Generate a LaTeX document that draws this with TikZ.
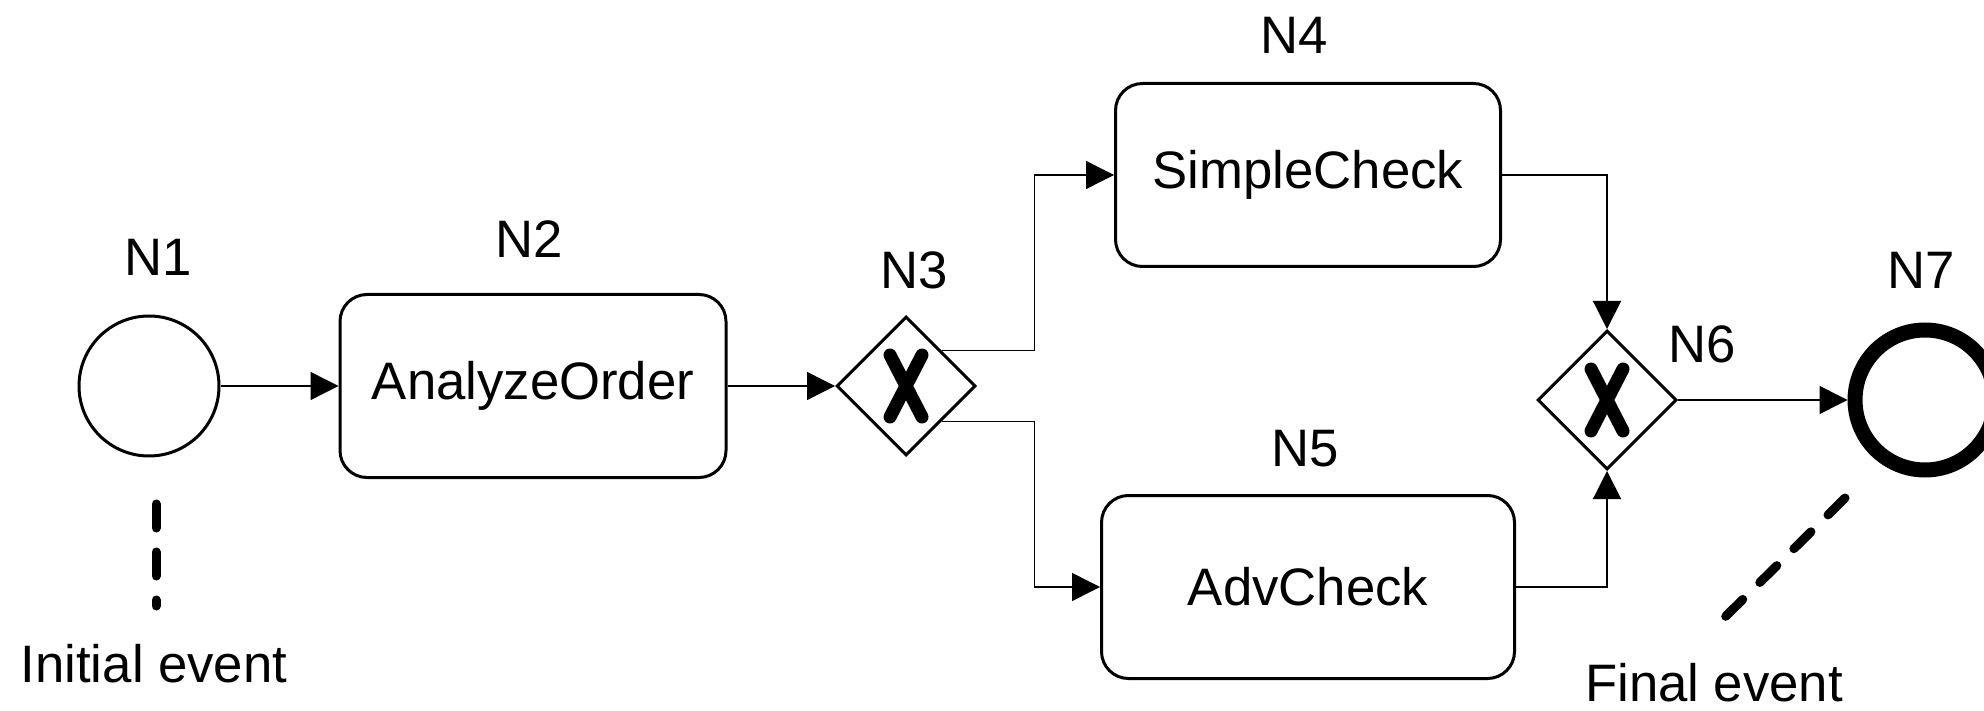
\documentclass[tikz,border=0pt]{standalone}
\usepackage{fontspec}
\setmainfont{Liberation Sans}
\usetikzlibrary{shapes.geometric, arrows.meta, positioning, calc}

\begin{document}
\begin{tikzpicture}[
    font=\fontsize{15}{18}\selectfont,
    event/.style={circle, draw=black, line width=0.03cm, minimum size=1.40cm, inner sep=0pt},
    end_event/.style={circle, draw=black, line width=0.15cm, minimum size=1.40cm, inner sep=0pt},
    task/.style={rectangle, draw=black, line width=0.03cm, rounded corners=0.27cm, minimum height=1.83cm, align=center},
    gateway/.style={diamond, draw=black, line width=0.03cm, minimum width=1.39cm, minimum height=1.39cm, inner sep=0pt,
        path picture={\draw[line width=0.13cm, line cap=round]
            ([shift={(-0.16,0.31)}]path picture bounding box.center) -- ([shift={(0.16,-0.31)}]path picture bounding box.center)
            ([shift={(0.16,0.31)}]path picture bounding box.center) -- ([shift={(-0.16,-0.31)}]path picture bounding box.center);}},
    tag/.style={inner sep=1pt},
    flow/.style={-{Triangle[length=0.28cm, width=0.28cm]}, line width=0.4pt},
    assoc/.style={line width=0.09cm, line cap=round, dash pattern=on 0.24cm off 0.24cm}
]
    \useasboundingbox (0,0) rectangle (19.84,7.10);

    % Events and tasks along the main line (left to right)
    \node[event] (n1) at (1.49, 3.24) {};
    \node[task, minimum width=3.86cm] (n2) at (5.33, 3.24) {AnalyzeOrder};
    \node[gateway] (n3) at (9.06, 3.24) {};

    \node[task, minimum width=3.85cm] (n4) at (13.08, 5.35) {SimpleCheck};
    \node[task, minimum width=4.13cm] (n5) at (13.08, 1.23) {AdvCheck};

    \node[gateway] (n6) at (16.07, 3.10) {};
    \node[end_event] (n7) at (19.25, 3.10) {};

    % Node tags
    \node[tag] (n1_tag) at (1.58, 4.53) {N1};
    \node[tag] (n2_tag) at (5.29, 4.71) {N2};
    \node[tag] (n3_tag) at (9.14, 4.40) {N3};
    \node[tag] (n4_tag) at (12.94, 6.75) {N4};
    \node[tag] (n5_tag) at (13.05, 2.61) {N5};
    \node[tag] (n6_tag) at (17.02, 3.66) {N6};
    \node[tag] (n7_tag) at (19.21, 4.40) {N7};

    % Sequence flows
    \draw[flow] (n1) -- (n2);
    \draw[flow] (n2) -- (n3);
    \draw[flow] ($(n3.north)!0.5!(n3.east)$) -- ++(0.93,0) |- (n4.west);
    \draw[flow] ($(n3.south)!0.5!(n3.east)$) -- ++(0.93,0) |- (n5.west);
    \draw[flow] (n4.east) -| (n6.north);
    \draw[flow] (n5.east) -| (n6.south);
    \draw[flow] (n6) -- (n7);

    % Annotations
    \node (init_txt) at (1.54, 0.46) {Initial event};
    \node (final_txt) at (17.14, 0.27) {Final event};
    \coordinate (init_a) at (1.56, 2.06);
    \coordinate (init_b) at (1.56, 1.04);
    \coordinate (final_a) at (18.45, 2.12);
    \coordinate (final_b) at (17.25, 0.93);
    \draw[assoc] (init_a) -- (init_b);
    \draw[assoc] (final_a) -- (final_b);
\end{tikzpicture}
\end{document}
